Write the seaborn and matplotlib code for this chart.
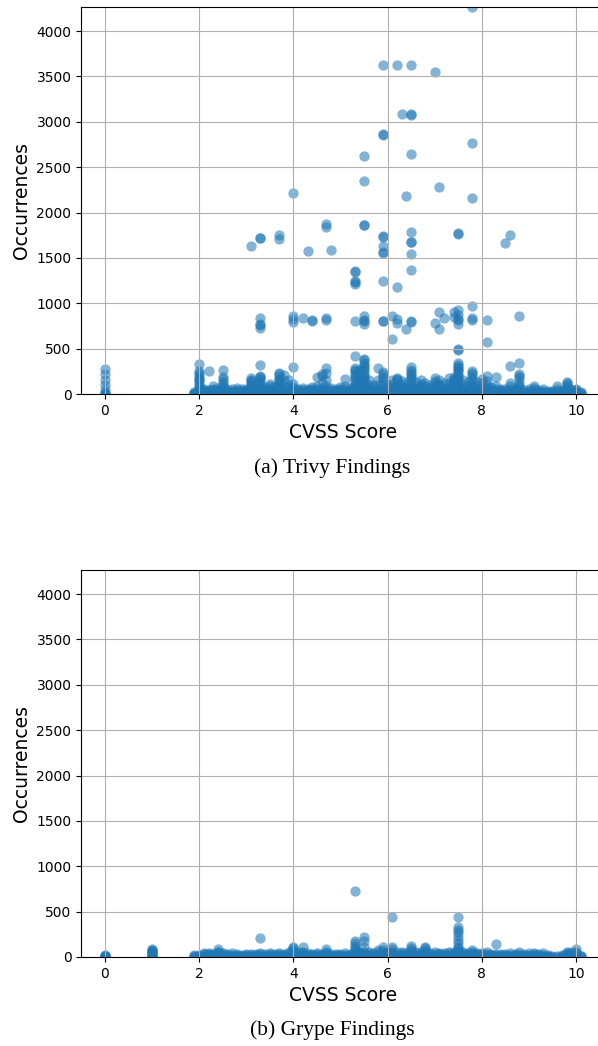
import matplotlib
matplotlib.use("Agg")
import matplotlib.pyplot as plt
import pandas as pd
import seaborn as sns

# ---------------- Trivy findings (CVSS score, occurrences) ----------------
trivy_high = [
    (7.8, 4265), (5.9, 3625), (6.2, 3625), (6.5, 3625), (7.0, 3548),
    (6.3, 3085), (6.5, 3085), (6.5, 3080), (5.9, 2865), (5.9, 2855), (7.8, 2765),
    (5.5, 2625), (6.5, 2648), (5.5, 2347), (7.1, 2280), (6.4, 2185), (7.8, 2162),
    (4.0, 2218), (4.7, 1873), (4.7, 1838), (5.5, 1862), (5.5, 1860),
    (5.9, 1740), (5.9, 1730), (5.9, 1631), (5.9, 1565), (5.9, 1555),
    (6.5, 1782), (6.5, 1680), (6.5, 1675), (6.5, 1539), (6.5, 1366),
    (7.5, 1775), (7.5, 1760), (8.6, 1750), (8.5, 1664),
    (3.1, 1630), (3.3, 1722), (3.3, 1715), (3.7, 1752), (3.7, 1708),
    (4.3, 1576), (4.8, 1587),
    (5.3, 1359), (5.3, 1350), (5.3, 1240), (5.3, 1232), (5.3, 1215),
    (5.9, 1250), (6.2, 1175),
]

trivy_mid = [
    (3.3, 840), (3.3, 775), (3.3, 760), (3.3, 731),
    (4.0, 863), (4.0, 826), (4.0, 797),
    (4.2, 834), (4.4, 815), (4.4, 805), (4.7, 834), (4.7, 820),
    (5.3, 800), (5.5, 863), (5.5, 815), (5.5, 800), (5.5, 771),
    (5.9, 808), (5.9, 800),
    (6.1, 863), (6.2, 823), (6.2, 779), (6.4, 716), (6.5, 800), (6.5, 795), (6.1, 603),
    (7.0, 780), (7.1, 904), (7.1, 720), (7.2, 834),
    (7.4, 904), (7.4, 852), (7.5, 930), (7.5, 870), (7.5, 823), (7.5, 815), (7.5, 775),
    (7.8, 972), (7.8, 834), (7.8, 815), (8.1, 813), (8.1, 572), (8.8, 860),
    (7.5, 495), (7.5, 490),
]

trivy_band = [
    (0.0, [272, 220, 154, 99, 44, 12, 4, 1, 1]),
    (1.9, [25, 12, 5, 2, 1]),
    (2.0, [330, 250, 230, 210, 180, 160, 150, 120, 100, 80, 60, 45, 30, 20, 10, 5, 2, 1, 1]),
    (2.1, [60, 42, 30, 20, 12, 8, 5, 2, 1, 1]), (2.2, [257, 40, 28, 18, 10, 6, 4, 1, 1]),
    (2.3, [88, 55, 40, 30, 16, 8, 3, 1, 1]), (2.4, [70, 45, 32, 20, 12, 5, 2, 1, 1]),
    (2.5, [264, 191, 160, 136, 110, 80, 55, 30, 15, 5, 2, 1, 1]),
    (2.6, [50, 32, 25, 20, 10, 5, 2, 1, 1]), (2.7, [60, 35, 22, 15, 8, 3, 1, 1]),
    (2.8, [70, 48, 30, 18, 9, 5, 2, 1, 1]), (2.9, [50, 33, 20, 11, 5, 3, 2, 1, 1]),
    (3.0, [60, 38, 28, 20, 12, 5, 2, 1, 1]),
    (3.1, [173, 150, 140, 120, 100, 75, 50, 30, 18, 10, 4, 1, 1]),
    (3.2, [80, 55, 42, 30, 18, 9, 5, 1, 1]),
    (3.3, [320, 200, 190, 180, 150, 120, 95, 70, 50, 30, 18, 10, 5, 2, 1, 1]),
    (3.4, [80, 52, 38, 30, 20, 10, 5, 1, 1]), (3.5, [110, 85, 60, 40, 22, 10, 3, 1, 1]),
    (3.6, [90, 60, 40, 25, 12, 5, 2, 1, 1]),
    (3.7, [228, 215, 190, 170, 150, 125, 100, 75, 50, 30, 15, 10, 4, 1, 1]),
    (3.8, [210, 150, 90, 60, 35, 20, 8, 2, 1, 1]),
    (3.9, [154, 100, 60, 38, 22, 10, 3, 1, 1]), (4.0, [294, 110, 80, 55, 30, 18, 5, 2, 1, 1]),
    (4.1, [60, 40, 30, 20, 12, 5, 2, 1, 1]), (4.2, [70, 48, 30, 16, 8, 5, 3, 1, 1]),
    (4.3, [60, 40, 25, 14, 8, 5, 2, 1, 1]), (4.4, [80, 55, 40, 30, 18, 5, 3, 1, 1]),
    (4.5, [183, 90, 60, 35, 20, 10, 3, 1, 1]), (4.6, [220, 198, 120, 70, 45, 25, 10, 4, 1, 1]),
    (4.7, [283, 235, 150, 90, 60, 40, 22, 12, 5, 1, 1]),
    (4.8, [70, 48, 30, 16, 9, 5, 2, 1, 1]), (4.9, [60, 38, 28, 20, 11, 5, 2, 1, 1]),
    (5.0, [80, 52, 40, 30, 18, 5, 3, 1, 1]), (5.1, [161, 90, 60, 35, 18, 10, 3, 1, 1]),
    (5.2, [70, 46, 30, 22, 15, 5, 2, 1, 1]),
    (5.3, [415, 283, 270, 250, 225, 200, 175, 150, 125, 100, 75, 50, 30, 18, 10, 4, 1, 1]),
    (5.4, [260, 180, 140, 100, 65, 30, 15, 5, 1, 1]),
    (5.5, [389, 370, 345, 320, 300, 275, 250, 225, 200, 175, 150, 125, 100, 75, 50, 30, 15, 10, 4, 1, 1]),
    (5.6, [150, 100, 60, 35, 18, 10, 3, 1, 1]), (5.7, [100, 70, 40, 22, 10, 5, 2, 1, 1]),
    (5.8, [283, 150, 100, 60, 35, 18, 10, 2, 1, 1]),
    (5.9, [246, 215, 191, 160, 120, 90, 60, 35, 18, 10, 4, 1, 1]),
    (6.0, [100, 68, 40, 22, 10, 5, 2, 1, 1]),
    (6.1, [150, 110, 80, 55, 30, 18, 5, 2, 1, 1]),
    (6.2, [173, 160, 150, 110, 80, 50, 20, 12, 5, 1, 1]),
    (6.3, [140, 95, 60, 35, 20, 10, 4, 1, 1]), (6.4, [120, 80, 50, 30, 18, 10, 5, 1, 1]),
    (6.5, [294, 270, 240, 220, 200, 175, 150, 115, 80, 50, 20, 12, 5, 1, 1]),
    (6.6, [130, 90, 60, 35, 20, 10, 4, 1, 1]), (6.7, [154, 110, 80, 45, 20, 10, 3, 1, 1]),
    (6.8, [120, 85, 50, 30, 18, 10, 5, 1, 1]), (6.9, [100, 65, 40, 22, 12, 5, 3, 1, 1]),
    (7.0, [173, 145, 120, 90, 60, 35, 10, 5, 1, 1]), (7.1, [154, 110, 80, 50, 20, 10, 2, 1, 1]),
    (7.2, [120, 85, 50, 30, 18, 10, 4, 1, 1]), (7.3, [173, 120, 80, 50, 20, 10, 2, 1, 1]),
    (7.4, [191, 170, 150, 110, 80, 50, 20, 10, 3, 1, 1]),
    (7.5, [338, 320, 300, 283, 265, 250, 225, 200, 175, 150, 125, 100, 75, 50, 30, 10, 5, 1, 1]),
    (7.6, [150, 100, 60, 35, 20, 10, 5, 1, 1]), (7.7, [130, 90, 50, 30, 18, 10, 4, 1, 1]),
    (7.8, [257, 235, 210, 180, 150, 115, 80, 50, 20, 10, 2, 1, 1]),
    (7.9, [130, 85, 50, 30, 18, 10, 5, 1, 1]),
    (8.0, [161, 120, 80, 50, 20, 10, 2, 1, 1]), (8.1, [198, 140, 100, 70, 40, 20, 5, 1, 1]),
    (8.2, [80, 52, 30, 22, 15, 5, 2, 1, 1]), (8.3, [191, 85, 50, 28, 10, 4, 1, 1]),
    (8.4, [60, 38, 28, 20, 10, 5, 1, 1]), (8.5, [50, 33, 20, 10, 5, 2, 1, 1]),
    (8.6, [309, 118, 85, 60, 38, 20, 8, 2, 1, 1]), (8.7, [60, 38, 28, 20, 10, 5, 1, 1]),
    (8.8, [338, 220, 195, 173, 130, 100, 75, 50, 30, 10, 3, 1, 1]),
    (8.9, [40, 25, 15, 6, 3, 1]),
    (9.0, [50, 32, 20, 10, 5, 2, 1, 1]), (9.1, [88, 65, 40, 22, 10, 3, 1, 1]),
    (9.2, [40, 25, 15, 6, 3, 1]),
    (9.3, [51, 32, 20, 10, 5, 2, 1, 1]), (9.4, [30, 18, 10, 3, 1]), (9.5, [30, 18, 10, 3, 1]),
    (9.6, [88, 55, 30, 15, 5, 2, 1]), (9.7, [40, 25, 15, 6, 3, 1]),
    (9.8, [136, 118, 99, 75, 50, 30, 10, 5, 1, 1]),
    (9.9, [60, 38, 20, 10, 5, 2, 1]), (10.0, [60, 45, 33, 20, 10, 3, 1, 1]),
    (10.1, [25, 12, 5, 1]),
]

# ---------------- Grype findings (CVSS score, occurrences) ----------------
grype_band = [
    (0.0, [22, 15, 10, 6, 3, 1, 1]),
    (1.0, [85, 78, 70, 60, 50, 40, 30, 20, 10, 4, 1, 1]),
    (1.9, [22, 10, 5, 1]), (2.0, [20, 12, 5, 2, 1]), (2.1, [47, 30, 20, 10, 5, 1, 1]),
    (2.2, [40, 28, 18, 10, 3, 1]), (2.3, [30, 20, 10, 4, 1, 1]),
    (2.4, [88, 60, 50, 35, 20, 10, 3, 1]), (2.5, [40, 28, 15, 8, 2, 1]),
    (2.6, [35, 22, 10, 5, 1, 1]), (2.7, [40, 25, 10, 5, 2, 1]), (2.8, [30, 18, 10, 4, 1, 1]),
    (2.9, [20, 12, 5, 2, 1]), (3.0, [35, 22, 10, 5, 1, 1]), (3.1, [35, 22, 10, 5, 2, 1]),
    (3.2, [30, 18, 10, 4, 1, 1]), (3.3, [213, 40, 28, 15, 8, 2, 1]),
    (3.4, [30, 20, 10, 4, 1, 1]), (3.5, [45, 30, 15, 8, 2, 1]), (3.6, [35, 22, 10, 5, 1, 1]),
    (3.7, [45, 30, 15, 8, 2, 1]), (3.8, [30, 18, 10, 4, 1, 1]), (3.9, [60, 40, 20, 10, 3, 1]),
    (4.0, [113, 95, 80, 60, 40, 25, 15, 6, 1, 1]), (4.1, [50, 32, 15, 8, 2, 1]),
    (4.2, [107, 60, 40, 25, 10, 3, 1]), (4.3, [40, 25, 10, 5, 1, 1]),
    (4.4, [35, 22, 10, 5, 2, 1]), (4.5, [40, 28, 15, 8, 2, 1]), (4.6, [30, 18, 10, 4, 1, 1]),
    (4.7, [88, 60, 40, 25, 15, 6, 1, 1]), (4.8, [30, 20, 10, 4, 1, 1]),
    (4.9, [35, 22, 10, 5, 2, 1]), (5.0, [30, 18, 10, 4, 1, 1]), (5.1, [40, 25, 10, 5, 1, 1]),
    (5.2, [30, 20, 10, 4, 1, 1]),
    (5.3, [731, 176, 150, 125, 100, 80, 60, 40, 20, 10, 3, 1]), (5.4, [60, 40, 20, 10, 2, 1]),
    (5.5, [224, 180, 110, 60, 40, 20, 8, 2, 1]), (5.6, [50, 32, 15, 8, 2, 1]),
    (5.7, [40, 28, 15, 6, 1, 1]), (5.8, [80, 55, 30, 15, 5, 1]),
    (5.9, [107, 80, 60, 40, 20, 8, 2, 1]), (6.0, [60, 40, 20, 10, 3, 1]),
    (6.1, [444, 113, 85, 60, 40, 20, 8, 2, 1]), (6.2, [50, 32, 15, 8, 2, 1]),
    (6.3, [60, 40, 20, 10, 3, 1]), (6.4, [40, 25, 10, 5, 1, 1]),
    (6.5, [121, 100, 80, 60, 40, 25, 10, 3, 1]), (6.6, [60, 40, 20, 10, 3, 1]),
    (6.7, [50, 32, 15, 8, 2, 1]), (6.8, [113, 100, 80, 55, 30, 15, 5, 1]),
    (6.9, [40, 28, 15, 6, 1, 1]), (7.0, [50, 32, 15, 8, 2, 1]), (7.1, [45, 30, 15, 8, 2, 1]),
    (7.2, [40, 28, 15, 6, 1, 1]), (7.3, [60, 40, 20, 10, 3, 1]), (7.4, [50, 35, 20, 10, 2, 1]),
    (7.5, [444, 327, 300, 279, 230, 187, 150, 114, 100, 80, 60, 40, 20, 8, 2, 1]),
    (7.6, [60, 40, 20, 10, 3, 1]), (7.7, [40, 28, 15, 6, 1, 1]), (7.8, [80, 60, 40, 20, 8, 1]),
    (7.9, [40, 28, 15, 6, 1, 1]), (8.0, [40, 28, 15, 6, 2, 1]), (8.1, [50, 32, 15, 8, 2, 1]),
    (8.2, [30, 20, 10, 4, 1, 1]), (8.3, [147, 30, 20, 10, 3, 1]), (8.4, [35, 22, 10, 5, 1, 1]),
    (8.5, [30, 18, 10, 4, 1, 1]), (8.6, [40, 25, 10, 5, 2, 1]), (8.7, [30, 20, 10, 4, 1, 1]),
    (8.8, [50, 32, 15, 8, 2, 1]), (8.9, [30, 18, 10, 4, 1, 1]), (9.0, [40, 25, 10, 5, 2, 1]),
    (9.1, [45, 30, 15, 8, 2, 1]), (9.2, [30, 20, 10, 4, 1, 1]), (9.3, [40, 25, 10, 5, 1, 1]),
    (9.4, [20, 12, 5, 2, 1]), (9.5, [15, 5]), (9.6, [15, 5]), (9.7, [20, 10, 3, 1]),
    (9.8, [60, 45, 30, 18, 10, 3, 1]), (9.9, [50, 32, 15, 8, 2, 1]),
    (10.0, [91, 60, 40, 22, 10, 3, 1]), (10.1, [15, 8, 3]),
]

x_ticks = [0, 2, 4, 6, 8, 10]
y_ticks = [0, 500, 1000, 1500, 2000, 2500, 3000, 3500, 4000]
captions = ["(a) Trivy Findings", "(b) Grype Findings"]


def to_frame(points, bands):
    xs = [p[0] for p in points]
    ys = [p[1] for p in points]
    for x, ylist in bands:
        for y in ylist:
            xs.append(x)
            ys.append(y)
    return pd.DataFrame({"CVSS Score": xs, "Occurrences": ys})


df_trivy = to_frame(trivy_high + trivy_mid, trivy_band)
df_grype = to_frame([], grype_band)

fig = plt.figure(figsize=(5.98, 10.46), dpi=100)
W, H = 598.0, 1046.0
left_px, right_px = 81.2, 604.5
axes_specs = [(7, 394), (570, 957)]
cap_y = [468, 1030]

for i, (df, (top_px, bot_px)) in enumerate(zip([df_trivy, df_grype], axes_specs)):
    ax = fig.add_axes([left_px / W, 1 - bot_px / H,
                       (right_px - left_px) / W, (bot_px - top_px) / H])
    sns.scatterplot(data=df, x="CVSS Score", y="Occurrences", ax=ax,
                    color="#1f77b4", alpha=0.55, s=55, linewidth=0)
    ax.set_xlim(-0.505, 10.605)
    ax.set_ylim(0, 4265)
    ax.set_xticks(x_ticks)
    ax.set_yticks(y_ticks)
    ax.grid(True)
    ax.tick_params(labelsize=10)
    ax.set_xlabel("CVSS Score", fontsize=13.5)
    ax.set_ylabel("Occurrences", fontsize=13.5)
    fig.text(332 / W, 1 - cap_y[i] / H, captions[i], ha="center", va="center",
             family="Liberation Serif", fontsize=15.5)

fig.savefig("out.png", dpi=100)
